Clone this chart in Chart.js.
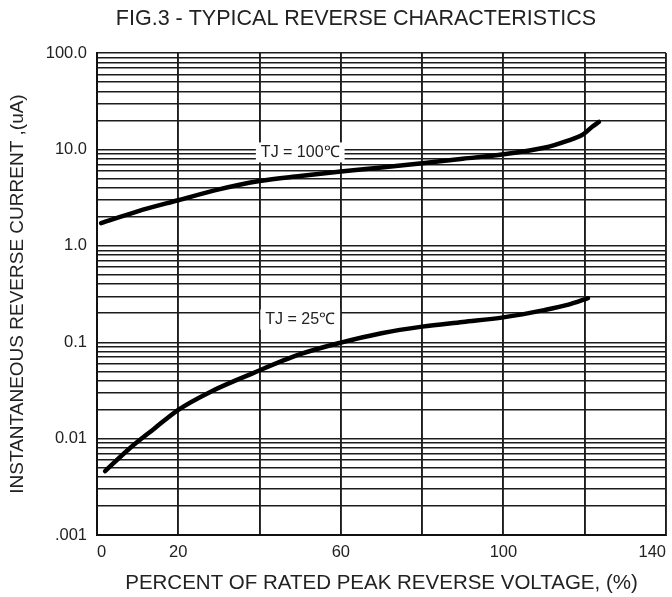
<!DOCTYPE html>
<html>
<head>
<meta charset="utf-8">
<script src="https://cdn.jsdelivr.net/npm/chart.js@4/dist/chart.umd.min.js"></script>
<style>
  html, body { margin:0; padding:0; background:#fff; overflow:hidden; }
  #wrap { width:672px; height:597px; position:relative; }
</style>
</head>
<body>
<div id="wrap"><canvas id="c"></canvas></div>
<script>
// ---- data ----
const pct100 = [1, 10, 20, 30, 40, 50, 60, 70, 80, 90, 100, 110, 115.5, 119.6, 122, 123.5];
const cur100 = [1.72, 2.28, 2.97, 3.85, 4.7, 5.3, 5.9, 6.5, 7.2, 8.0, 8.9, 10.4, 12.2, 14.3, 17.4, 19.3];

const pct25 = [2, 8, 14, 20, 28, 38, 50, 60, 70, 80, 90, 100, 110, 116, 120.8];
const cur25 = [0.0046, 0.0079, 0.0126, 0.0199, 0.0307, 0.047, 0.075, 0.099, 0.124, 0.145, 0.162, 0.181, 0.215, 0.245, 0.286];

const decades = [0.001, 0.01, 0.1, 1, 10, 100];
const decadeLabels = ['.001', '0.01', '0.1', '1.0', '10.0', '100.0'];
const xShown = [0, 20, 60, 100, 140];   // x tick labels that are printed

const curveLabels = [
  {text: 'TJ = 100\u2103', x: 50, y: 9.3},
  {text: 'TJ = 25\u2103',  x: 50, y: 0.172}
];

// gridlines 1..9 per decade
const yGrid = [];
decades.slice(0, -1).forEach(d => { for (let k = 1; k <= 9; k++) yGrid.push(+(k * d).toPrecision(3)); });
yGrid.push(100);

const FONT = "'Liberation Sans', Arial, sans-serif";
const INK = '#222';

const figTitle = {
  id: 'figTitle',
  afterDraw(chart) {
    const ctx = chart.ctx;
    ctx.save();
    ctx.font = '21.5px ' + FONT;
    ctx.fillStyle = INK;
    ctx.textAlign = 'center';
    ctx.textBaseline = 'middle';
    ctx.fillText('FIG.3 - TYPICAL REVERSE CHARACTERISTICS', 356, 19);
    ctx.restore();
  }
};

const curveTags = {
  id: 'curveTags',
  beforeDatasetsDraw(chart) {
    const ctx = chart.ctx, xs = chart.scales.x, ys = chart.scales.y;
    ctx.save();
    ctx.font = '16px ' + FONT;
    ctx.textAlign = 'center';
    ctx.textBaseline = 'middle';
    curveLabels.forEach(l => {
      const px = xs.getPixelForValue(l.x), py = ys.getPixelForValue(l.y);
      const w = ctx.measureText(l.text).width + 10;
      ctx.fillStyle = '#fff';
      ctx.fillRect(px - w / 2, py - 10, w, 20);
      ctx.fillStyle = INK;
      ctx.fillText(l.text, px, py);
    });
    ctx.restore();
  }
};

const lineStyle = {borderColor:'#000', borderWidth:4.5, pointRadius:0, fill:false,
  tension:0.4, cubicInterpolationMode:'monotone', borderCapStyle:'round', borderJoinStyle:'round'};

new Chart(document.getElementById('c'), {
  type: 'line',
  data: {
    datasets: [
      Object.assign({label:'TJ = 100', data: pct100.map((x, i) => ({x, y: cur100[i]}))}, lineStyle),
      Object.assign({label:'TJ = 25',  data: pct25.map((x, i) => ({x, y: cur25[i]}))}, lineStyle)
    ]
  },
  options: {
    responsive: true,
    maintainAspectRatio: false,
    animation: false,
    layout: {autoPadding: false, padding: {top: 53, right: 6, bottom: 0, left: 0}},
    plugins: {legend: {display: false}, tooltip: {enabled: false}},
    scales: {
      x: {
        type: 'linear', min: 0, max: 140,
        afterFit: s => { s.height = 62; s.paddingLeft = 0; s.paddingRight = 0; },
        ticks: {stepSize: 20, autoSkip: false, maxRotation: 0, padding: 8, align: 'inner',
          color: INK, font: {family: FONT, size: 16.5},
          callback: v => xShown.includes(v) ? String(v) : ''},
        grid: {color: '#1c1c1c', lineWidth: 1.9, drawTicks: false},
        border: {color: '#111', width: 2},
        title: {display: true, text: 'PERCENT OF RATED PEAK REVERSE VOLTAGE, (%)',
          color: INK, font: {family: FONT, size: 20.5}, padding: {top: 0, bottom: 1}}
      },
      y: {
        type: 'logarithmic', min: 0.001, max: 100,
        afterFit: s => { s.width = 97; s.paddingTop = 0; s.paddingBottom = 0; },
        afterBuildTicks: s => { s.ticks = yGrid.map(v => ({value: v})); },
        ticks: {autoSkip: false, padding: 10, color: INK, font: {family: FONT, size: 16.5},
          callback: v => { const i = decades.findIndex(d => Math.abs(d - v) < d * 1e-6); return i >= 0 ? decadeLabels[i] : ''; }},
        grid: {color: '#1c1c1c', lineWidth: 1.4, drawTicks: false},
        border: {color: '#111', width: 2},
        title: {display: true, text: 'INSTANTANEOUS REVERSE CURRENT ,(uA)',
          color: INK, font: {family: FONT, size: 19}, padding: {top: 6, bottom: 0}}
      }
    }
  },
  plugins: [figTitle, curveTags]
});
</script>
</body>
</html>
